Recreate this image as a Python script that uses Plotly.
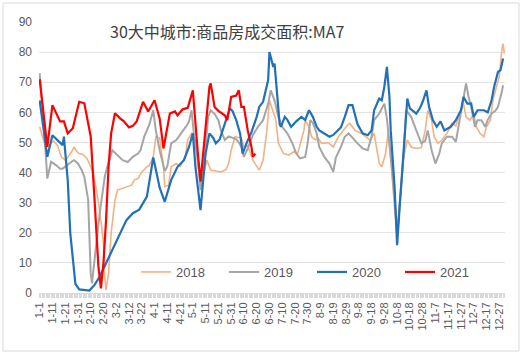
import plotly.graph_objects as go

# Day-of-year index (0 = Jan 1) and MA7 values
days_2018 = [0, 4, 6, 9, 11, 14, 17, 20, 22, 25, 27, 29, 31, 34, 37, 39, 42, 44, 47, 50, 51, 52, 54, 56, 59, 61, 65, 68, 72, 74, 77, 80, 84, 86, 89, 91, 94, 97, 98, 101, 103, 107, 110, 114, 116, 119, 122, 124, 127, 131, 134, 138, 142, 146, 148, 150, 153, 155, 158, 160, 163, 167, 170, 172, 175, 178, 180, 183, 185, 187, 191, 195, 199, 202, 204, 207, 208, 211, 213, 216, 218, 221, 226, 230, 234, 241, 243, 247, 252, 256, 259, 262, 264, 266, 268, 271, 273, 275, 278, 280, 282, 285, 288, 291, 295, 299, 302, 304, 307, 309, 312, 315, 319, 323, 326, 329, 332, 334, 337, 340, 342, 345, 348, 350, 353, 355, 358, 360, 362, 363, 364]
vals_2018 = [55.2, 49.7, 46.5, 50, 50.5, 49, 45.2, 44.1, 45, 46.9, 48.5, 47, 46.3, 46, 44.7, 43, 39.7, 35.3, 27.5, 16.5, 5.4, 1, 6.6, 19.8, 30.9, 34.2, 34.8, 35.3, 35.8, 37.5, 38, 40.2, 41.9, 42.4, 45.2, 51.9, 51.5, 41.9, 35.3, 35.8, 41.9, 43, 42, 45.2, 50.8, 53, 50.8, 41.9, 37, 44.1, 40.8, 40.5, 40.2, 41, 43, 47.4, 51.9, 51.7, 51.5, 48.5, 49, 44.1, 41.9, 40.8, 44.1, 54, 64, 59.6, 57.5, 49.7, 46.3, 45.8, 46.9, 46.3, 49.7, 54, 57.4, 55.2, 51.9, 50.8, 51.5, 49.7, 49.9, 48.5, 51.9, 55.7, 56.3, 54, 53, 51.9, 50.8, 53, 48, 43, 41.9, 46.3, 53.5, 45, 28, 20, 30, 45, 50.8, 48.5, 48, 48.3, 54, 60.7, 57.4, 51.9, 49.7, 50.8, 53, 56.3, 55.5, 59.6, 62.9, 58.5, 57.4, 59.6, 55.2, 53, 51.9, 55.2, 57.4, 64, 68.5, 71.8, 80.6, 82.8, 79.5]

days_2019 = [0, 3, 6, 9, 13, 16, 18, 21, 25, 27, 30, 33, 35, 38, 39, 40, 41, 44, 47, 51, 53, 57, 61, 65, 69, 73, 77, 79, 82, 86, 89, 91, 94, 98, 100, 103, 107, 111, 115, 117, 119, 121, 124, 126, 129, 132, 134, 137, 140, 142, 145, 148, 151, 154, 156, 158, 160, 163, 167, 171, 175, 179, 181, 184, 187, 190, 194, 198, 201, 204, 208, 210, 212, 214, 217, 219, 223, 227, 230, 232, 236, 239, 242, 245, 249, 253, 257, 260, 262, 266, 270, 272, 275, 278, 280, 282, 285, 287, 291, 295, 299, 302, 304, 307, 310, 313, 315, 319, 323, 326, 329, 332, 334, 336, 338, 341, 343, 346, 349, 351, 354, 357, 359, 362, 363]
vals_2019 = [73, 58, 38, 43.6, 42.4, 41.3, 41.3, 42.4, 43.6, 44.1, 43, 40.8, 38.6, 30.9, 17.6, 6.6, 3.2, 14.3, 26.4, 38.6, 41.9, 47.4, 45.7, 44.1, 43.5, 45.2, 46.3, 47.4, 52, 56, 60.7, 54, 47.4, 40.5, 42, 49.7, 50.8, 53, 55.5, 57, 60.7, 52, 44.1, 34.2, 44.1, 58.5, 60.7, 59.5, 57.4, 54, 50.8, 52, 51.5, 51, 50, 48.5, 45.2, 48, 52.4, 55.2, 57.4, 62.9, 67.3, 64, 58.5, 55.2, 53, 49.7, 46.3, 44.7, 45.2, 50, 57.4, 56.5, 53, 48.5, 45.2, 43, 40.2, 45, 48.5, 51.9, 53, 51.5, 49.7, 48, 47.4, 52, 57.4, 59.6, 62.9, 58, 45, 32, 19, 30, 45, 60.7, 58.5, 54, 49.7, 50.5, 54, 47.4, 43, 46.3, 49.7, 51.9, 51.9, 50.2, 57.4, 64, 69.6, 65.1, 61.8, 55.2, 57.4, 57.4, 55.2, 57.5, 59.6, 60.5, 61.8, 66.8, 69]

days_2020 = [0, 6, 10, 12, 15, 18, 19, 22, 24, 28, 31, 35, 39, 43, 47, 52, 57, 63, 68, 73, 78, 84, 87, 89, 92, 94, 98, 103, 108, 113, 117, 120, 122, 126, 130, 133, 136, 138, 141, 145, 149, 151, 154, 157, 159, 162, 166, 170, 172, 175, 177, 179, 180, 183, 184, 186, 188, 189, 192, 194, 197, 201, 205, 208, 211, 214, 217, 219, 223, 227, 230, 234, 236, 239, 242, 245, 247, 249, 253, 257, 260, 262, 266, 268, 270, 272, 274, 275, 278, 280, 282, 285, 288, 290, 292, 295, 298, 300, 303, 305, 308, 311, 314, 317, 322, 326, 330, 332, 335, 338, 340, 343, 348, 351, 354, 356, 359, 361, 363]
vals_2020 = [64, 45.2, 52.4, 51.5, 50.2, 49.1, 51.9, 37.5, 19.9, 3, 1.2, 1, 0.8, 2.7, 5.4, 9.9, 14.3, 19.8, 24.2, 26.5, 27.7, 32, 40.2, 45, 39, 35, 30.3, 37.5, 41.9, 44.1, 48.5, 53, 42, 27.5, 46.3, 53, 51.5, 49.7, 51, 56.3, 61.3, 60.5, 57.4, 53, 46.3, 49.7, 53.5, 58.5, 61.8, 63.5, 66.8, 70.7, 80, 75.1, 76.2, 67, 56, 55.2, 58.5, 57.5, 55.2, 57, 58.5, 57.5, 60.7, 58.5, 55.2, 54, 53, 51.9, 52.5, 54, 55, 58.5, 62.4, 62.4, 59.6, 56, 53, 52.4, 54, 60.7, 64.6, 64, 68.5, 75.1, 65.1, 54, 35.3, 15.9, 28.6, 46.3, 64.6, 61.3, 60.5, 59.6, 61.5, 63.5, 67.3, 61.8, 57.4, 55.2, 57, 54, 55.2, 57.4, 60.7, 65.1, 62.9, 63, 58.5, 60.7, 60.7, 60, 64, 68.5, 73.4, 74, 77.9]

days_2021 = [0, 6, 10, 14, 16, 19, 22, 26, 31, 35, 38, 40, 43, 46, 48, 50, 52, 54, 56, 59, 63, 66, 70, 73, 76, 81, 85, 90, 94, 97, 102, 106, 108, 112, 116, 120, 124, 126, 130, 133, 134, 137, 140, 145, 147, 150, 154, 156, 158, 160, 163, 166, 167, 169]
vals_2021 = [71, 48.5, 62.4, 58.5, 57, 57, 53, 54.7, 63.5, 63, 57, 52, 31, 9, 1.5, 10, 24, 42, 53, 59.7, 58, 57, 55, 55.5, 57, 63.5, 60.3, 64, 58, 48, 59.6, 60.3, 59, 61, 61.5, 67.3, 46, 37, 55, 68.5, 69.6, 61.8, 60.5, 59, 57.4, 65.1, 65.6, 67.3, 61.8, 61.8, 54, 48.3, 45.2, 46.3]

tick_days = list(range(0, 361, 10))
tick_labels = ["1-1", "1-11", "1-21", "1-31", "2-10", "2-20", "3-2", "3-12", "3-22",
               "4-1", "4-11", "4-21", "5-1", "5-11", "5-21", "5-31", "6-10", "6-20",
               "6-30", "7-10", "7-20", "7-30", "8-9", "8-19", "8-29", "9-8", "9-18",
               "9-28", "10-8", "10-18", "10-28", "11-7", "11-17", "11-27", "12-7",
               "12-17", "12-27"]

series = [
    ("2018", days_2018, vals_2018, "#F4B183", 1.6),
    ("2019", days_2019, vals_2019, "#A5A5A5", 2.0),
    ("2020", days_2020, vals_2020, "#2270B8", 2.2),
    ("2021", days_2021, vals_2021, "#FF0000", 2.2),
]

fig = go.Figure()
for name, d, v, c, w in series:
    fig.add_trace(go.Scatter(x=d, y=v, mode="lines", name=name,
                             line=dict(color=c, width=w)))

W, H = 524, 358
L, R, T, B = 39, 19, 22, 65
pw, ph = W - L - R, H - T - B

def px_x(p):
    return (p - L) / pw

def px_y(p):
    return (H - B - p) / ph

fig.update_layout(
    width=W, height=H,
    margin=dict(l=L, r=R, t=T, b=B, pad=0, autoexpand=False),
    paper_bgcolor="white", plot_bgcolor="white",
    font=dict(family="Liberation Sans, Arial, sans-serif", color="#595959"),
    showlegend=True,
    legend=dict(orientation="h", x=px_x(136), xanchor="left",
                y=px_y(272), yanchor="middle",
                entrywidth=43, entrywidthmode="pixels",
                font=dict(size=13, color="#595959"),
                bgcolor="rgba(0,0,0,0)", itemwidth=30),
    xaxis=dict(range=[-0.5, 364.5], tickmode="array", tickvals=tick_days,
               ticktext=tick_labels, tickangle=-90, automargin=False,
               tickfont=dict(size=11, color="#595959"),
               showgrid=False, zeroline=False,
               showline=True, linecolor="#D9D9D9", linewidth=1,
               ticks="outside", ticklen=4, tickcolor="#D9D9D9",
               minor=dict(tickmode="linear", tick0=0, dtick=1, ticks="outside",
                          ticklen=4, tickcolor="#D9D9D9")),
    yaxis=dict(range=[0, 90], tickmode="linear", tick0=0, dtick=10,
               automargin=False,
               tickfont=dict(size=12, color="#595959"),
               showgrid=True, gridcolor="#E3E3E3", gridwidth=1,
               zeroline=False, showline=False, ticks="",
               ticklabelstandoff=6),
    annotations=[dict(text="30大中城市:商品房成交面积:MA7", xref="paper", yref="paper",
                      x=px_x(226.7), y=px_y(31), xanchor="center", yanchor="middle",
                      showarrow=False,
                      font=dict(family="Noto Sans CJK SC", size=16, color="#404040"))],
    shapes=[dict(type="rect", xref="paper", yref="paper",
                 x0=px_x(3), x1=px_x(519), y0=px_y(351), y1=px_y(3),
                 line=dict(color="#D9D9D9", width=1), fillcolor="rgba(0,0,0,0)",
                 layer="below")],
)

fig.write_html("out.html", config={"displayModeBar": False},
               post_script="document.body.style.margin='0';document.body.style.padding='0';")
